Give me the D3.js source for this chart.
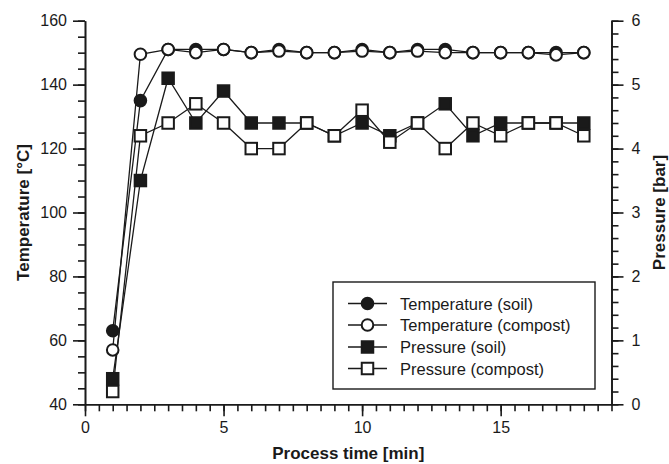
<!DOCTYPE html>
<html>
<head>
<meta charset="utf-8">
<script src="https://cdn.jsdelivr.net/npm/d3@7"></script>
<style>
  html, body { margin: 0; padding: 0; background: #fff; }
  svg { display: block; font-family: "Liberation Sans", Arial, sans-serif; }
</style>
</head>
<body>
<svg id="chart" width="669" height="464"></svg>
<script>
// ---- data ----
const times = [1, 2, 3, 4, 5, 6, 7, 8, 9, 10, 11, 12, 13, 14, 15, 16, 17, 18];
const tempSoil    = [63, 135, 151, 151, 151, 150, 151, 150, 150, 151, 150, 151, 151, 150, 150, 150, 150, 150];
const tempCompost = [57, 149.5, 151, 150, 151, 150, 150.5, 150, 150, 150.5, 150, 150.5, 150, 150, 150, 150, 149.3, 150];
const presSoil    = [0.4, 3.5, 5.1, 4.4, 4.9, 4.4, 4.4, 4.4, 4.2, 4.4, 4.2, 4.4, 4.7, 4.2, 4.4, 4.4, 4.4, 4.4];
const presCompost = [0.2, 4.2, 4.4, 4.7, 4.4, 4.0, 4.0, 4.4, 4.2, 4.6, 4.1, 4.4, 4.0, 4.4, 4.2, 4.4, 4.4, 4.2];
const xTicks = [0, 5, 10, 15];
const tTicks = [40, 60, 80, 100, 120, 140, 160];
const pTicks = [0, 1, 2, 3, 4, 5, 6];
const seriesNames = ["Temperature (soil)", "Temperature (compost)", "Pressure (soil)", "Pressure (compost)"];
const xTitle = "Process time [min]";
const yLeftTitle = "Temperature [°C]";
const yRightTitle = "Pressure [bar]";

// ---- layout ----
const svg = d3.select("#chart");
const L = 85, R = 611.5, T = 20.7, B = 404.3;
const x = d3.scaleLinear().domain([0, 19]).range([L, R]);
const yT = d3.scaleLinear().domain([40, 160]).range([B, T]);
const yP = d3.scaleLinear().domain([0, 6]).range([B, T]);
const ink = "#1a1a1a";
const tickFont = 16;

function styleAxis(g) {
  g.select(".domain").attr("stroke", ink).attr("stroke-width", 1.6);
  g.selectAll(".tick line").attr("stroke", ink).attr("stroke-width", 1.6);
  g.selectAll(".tick text").attr("fill", ink).style("font-size", tickFont + "px");
}

// minor ticks
const xMinor = d3.range(0, 19.001, 0.5);
const tMinor = d3.range(40, 160.001, 5);
const pMinor = d3.range(0, 6.001, 0.2);

svg.append("g").attr("transform", `translate(0,${B})`)
  .call(d3.axisBottom(x).tickValues(xMinor).tickSize(7).tickSizeOuter(0).tickFormat(""))
  .call(styleAxis);
svg.append("g").attr("transform", `translate(0,${B})`)
  .call(d3.axisBottom(x).tickValues(xTicks).tickSize(12).tickSizeOuter(0).tickPadding(5).tickFormat(d3.format("d")))
  .call(styleAxis);

svg.append("g").attr("transform", `translate(${L},0)`)
  .call(d3.axisLeft(yT).tickValues(tMinor).tickSize(7).tickSizeOuter(0).tickFormat(""))
  .call(styleAxis);
svg.append("g").attr("transform", `translate(${L},0)`)
  .call(d3.axisLeft(yT).tickValues(tTicks).tickSize(12).tickSizeOuter(0).tickPadding(6).tickFormat(d3.format("d")))
  .call(styleAxis);

svg.append("g").attr("transform", `translate(${R},0)`)
  .call(d3.axisRight(yP).tickValues(pMinor).tickSize(7).tickSizeOuter(0).tickFormat(""))
  .call(styleAxis);
svg.append("g").attr("transform", `translate(${R},0)`)
  .call(d3.axisRight(yP).tickValues(pTicks).tickSize(12).tickSizeOuter(0).tickPadding(8).tickFormat(d3.format("d")))
  .call(styleAxis);

// axis titles
svg.append("text").attr("x", (L + R) / 2).attr("y", 459)
  .attr("text-anchor", "middle").attr("fill", ink)
  .style("font-size", "17px").style("font-weight", "bold").text(xTitle);
svg.append("text").attr("transform", `translate(23,${(T + B) / 2}) rotate(-90)`)
  .attr("text-anchor", "middle").attr("dominant-baseline", "central").attr("fill", ink)
  .style("font-size", "17px").style("font-weight", "bold").text(yLeftTitle);
svg.append("text").attr("transform", `translate(659,${(T + B) / 2}) rotate(-90)`)
  .attr("text-anchor", "middle").attr("dominant-baseline", "central").attr("fill", ink)
  .style("font-size", "17px").style("font-weight", "bold").text(yRightTitle);

// series
const series = [
  { name: seriesNames[0], vals: tempSoil,    y: yT, shape: "circle", fill: ink },
  { name: seriesNames[1], vals: tempCompost, y: yT, shape: "circle", fill: "#fff" },
  { name: seriesNames[2], vals: presSoil,    y: yP, shape: "square", fill: ink },
  { name: seriesNames[3], vals: presCompost, y: yP, shape: "square", fill: "#fff" }
];

const plot = svg.append("g");
series.forEach(s => {
  const line = d3.line().x((d, i) => x(times[i])).y(d => s.y(d));
  plot.append("path").datum(s.vals).attr("d", line)
    .attr("fill", "none").attr("stroke", ink).attr("stroke-width", 1.3);
});

function drawMarker(g, shape, cx, cy, fill) {
  if (shape === "circle") {
    g.append("circle").attr("cx", cx).attr("cy", cy).attr("r", 5.8)
      .attr("fill", fill).attr("stroke", ink).attr("stroke-width", 2);
  } else {
    const s = 11.5;
    g.append("rect").attr("x", cx - s / 2).attr("y", cy - s / 2).attr("width", s).attr("height", s)
      .attr("fill", fill).attr("stroke", ink).attr("stroke-width", 2);
  }
}

series.forEach(s => {
  s.vals.forEach((v, i) => drawMarker(plot, s.shape, x(times[i]), s.y(v), s.fill));
});

// legend
const lg = svg.append("g");
lg.append("rect").attr("x", 333).attr("y", 282).attr("width", 262).attr("height", 107)
  .attr("fill", "#fff").attr("stroke", ink).attr("stroke-width", 1.4);
const rowY = [303.5, 325, 347, 368.5];
series.forEach((s, i) => {
  const yy = rowY[i];
  lg.append("line").attr("x1", 348).attr("x2", 387).attr("y1", yy).attr("y2", yy)
    .attr("stroke", ink).attr("stroke-width", 1.6);
  drawMarker(lg, s.shape, 367.5, yy, s.fill);
  lg.append("text").attr("x", 400).attr("y", yy).attr("dominant-baseline", "central")
    .attr("fill", ink).style("font-size", "16.5px").text(s.name);
});
</script>
</body>
</html>
